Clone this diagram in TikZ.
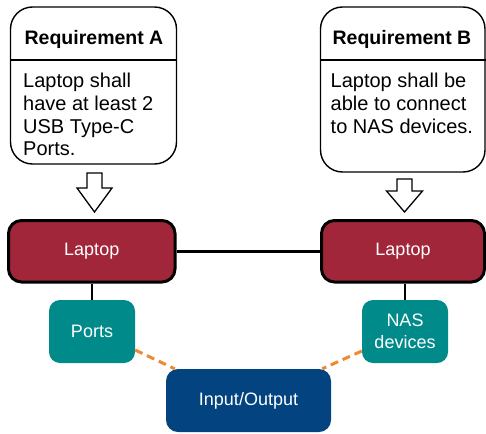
\documentclass[tikz,border=0pt]{standalone}
\usepackage{fontspec}
\setmainfont{Liberation Sans}
\usetikzlibrary{calc}
\definecolor{lapred}{HTML}{A12639}
\definecolor{tealbox}{HTML}{008B8A}
\definecolor{ioblue}{HTML}{034380}
\definecolor{dashorange}{HTML}{EE8A2E}
\tikzset{
  reqbox/.style={draw=black, line width=1.4pt, rounded corners=22pt, inner sep=0pt},
  reqhead/.style={font=\bfseries\fontsize{19.5}{22}\selectfont, inner sep=0pt},
  reqbody/.style={font=\fontsize{20}{22.6}\selectfont, align=left, inner sep=0pt, anchor=north west},
  blockarrow/.style={draw=black, line width=1.3pt, fill=white, line join=miter},
  lapbox/.style={draw=black, line width=3pt, fill=lapred, rounded corners=13pt, text=white,
    font=\fontsize{18}{21}\selectfont, inner sep=0pt},
  subbox/.style={fill=tealbox, rounded corners=11pt, text=white, align=center,
    font=\fontsize{18}{22}\selectfont, inner sep=0pt, minimum width=86pt, minimum height=63pt},
  iobox/.style={fill=ioblue, rounded corners=12pt, text=white,
    font=\fontsize{18}{21}\selectfont, inner sep=0pt, minimum width=165pt, minimum height=63pt},
  link/.style={draw=black, line width=2.6pt},
  dlink/.style={draw=dashorange, line width=3pt, dash pattern=on 8pt off 5pt},
}
\begin{document}
\begin{tikzpicture}[x=1pt, y=-1pt]
\useasboundingbox (0,0) rectangle (486,433);
% requirement boxes
\node[reqbox, minimum width=166pt, minimum height=157pt] (reqA) at (93.5,85.5) {};
\node[reqbox, minimum width=164.5pt, minimum height=165pt] (reqB) at (402.75,89.5) {};
\draw[line width=1.2pt] (reqA.west |- 0,60) -- (reqA.east |- 0,60);
\draw[line width=1.2pt] (reqB.west |- 0,60) -- (reqB.east |- 0,60);
\node[reqhead] (hA) at (94,39) {Requirement A};
\node[reqhead] (hB) at (402,39) {Requirement B};
\node[reqbody] (bA) at (23,73.3) {Laptop shall\\have at least 2\\USB Type-C\\Ports.};
\node[reqbody] (bB) at (330.5,73.3) {Laptop shall be\\able to connect\\to NAS devices.};
% block arrows
\coordinate (arA) at (94.5,173);
\coordinate (arB) at (404.5,179);
\draw[blockarrow] ($(arA)+(-7.5,0)$) -- ($(arA)+(7.5,0)$) -- ($(arA)+(7.5,15)$) -- ($(arA)+(17.5,15)$)
  -- ($(arA)+(0,39)$) -- ($(arA)+(-17.5,15)$) -- ($(arA)+(-7.5,15)$) -- cycle;
\draw[blockarrow] ($(arB)+(-7.5,0)$) -- ($(arB)+(7.5,0)$) -- ($(arB)+(7.5,12)$) -- ($(arB)+(18,12)$)
  -- ($(arB)+(0,33)$) -- ($(arB)+(-18,12)$) -- ($(arB)+(-7.5,12)$) -- cycle;
% laptop boxes
\node[lapbox, minimum width=166.5pt, minimum height=61.5pt] (lapA) at (91.75,251.25) {Laptop};
\node[lapbox, minimum width=163pt, minimum height=61.5pt] (lapB) at (403,251.25) {Laptop};
% sub boxes
\node[subbox] (ports) at (92,331.5) {Ports};
\node[subbox] (nas) at (405,331.5) {NAS\\devices};
\node[iobox] (io) at (248.5,400.5) {Input/Output};
% connectors
\draw[link] (lapA.east) -- (lapB.west);
\draw[link] (lapA.south -| ports.north) -- (ports.north);
\draw[link] (lapB.south -| nas.north) -- (nas.north);
\draw[dlink] ($(ports.east)+(0,18.5)$) -- ($(io.north west)+(9,0)$);
\draw[dlink] ($(nas.west)+(0,19.5)$) -- ($(io.north east)+(-9,0)$);
\end{tikzpicture}
\end{document}
